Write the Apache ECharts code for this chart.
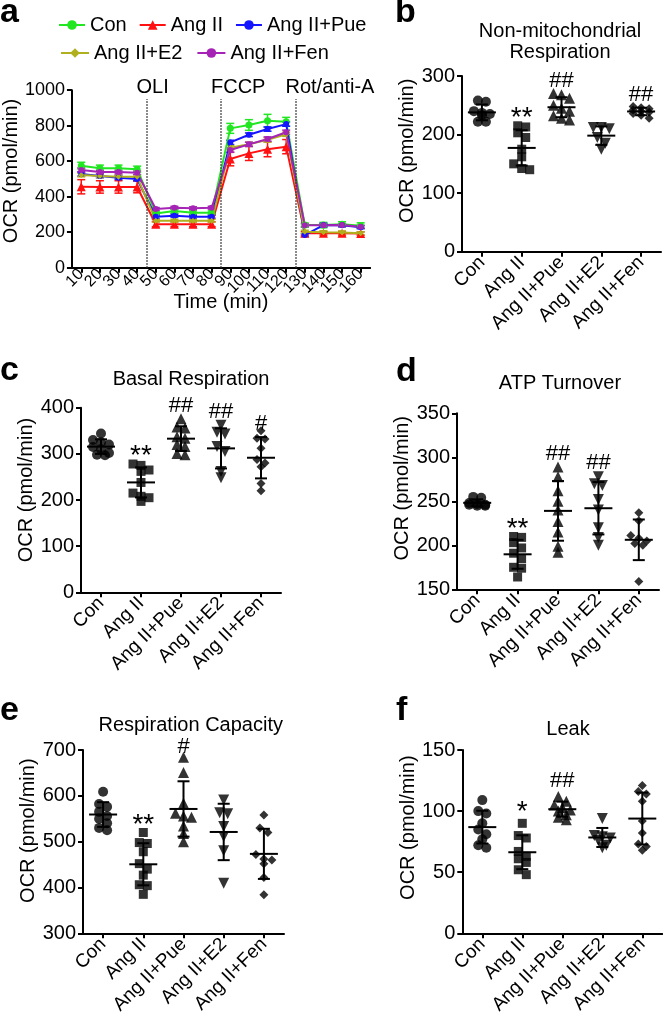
<!DOCTYPE html>
<html><head><meta charset="utf-8">
<script src="https://cdn.jsdelivr.net/npm/echarts@6/dist/echarts.min.js"></script>
<style>html,body{margin:0;padding:0;background:#fff}#c{width:663px;height:1017px}</style>
</head><body><div id="c"></div>
<script>
// ---------- Panel a : OCR time course ----------
const times = [10,20,30,40,50,60,70,80,90,100,110,120,130,140,150,160];
const ocrCon  = [575,560,560,555,306,319,310,310,785,804,828,822,240,240,245,237];
const ocrAng  = [456,455,455,455,245,245,245,245,612,644,667,682,194,194,194,192];
const ocrPue  = [528,517,507,500,287,293,287,287,706,749,781,809,184,240,239,228];
const ocrE2   = [522,517,513,513,265,265,265,265,676,695,720,752,203,200,199,194];
const ocrFen  = [550,539,539,535,331,338,335,338,663,695,725,763,239,239,240,231];
const sdCon   = [19,18,18,17,12,12,10,10,28,30,36,25,12,15,14,16];
const sdAng   = [40,35,35,33,15,14,14,14,38,40,42,40,10,10,10,10];
const sdPue   = [12,10,10,10,10,8,8,8,12,10,12,12,8,10,8,8];
const sdE2    = [10,10,10,10,8,8,8,8,12,12,12,12,8,8,8,8];
const sdFen   = [12,10,10,10,8,8,8,8,12,12,12,12,8,8,8,8];
const injTimes  = [45,85,125];
const injLabels = ['OLI','FCCP','Rot/anti-A'];
const injTop = 950;

// ---------- Panels b-f : scatter dot plots ----------
const groups = ['Con','Ang II','Ang II+Pue','Ang II+E2','Ang II+Fen'];
const nonMito = [
  [258,256,240,237,235,233,222,222],
  [215,213,203,195,175,162,150,142,140],
  [270,268,262,250,245,240,232,228,225],
  [212,212,210,195,185,175],
  [248,246,244,242,240,238,236,233,228]
];
const basal = [
  [344,330,325,320,315,310,302,298,297],
  [278,275,265,262,238,215,208,205,197],
  [376,358,356,337,334,320,316,301,298],
  [362,347,343,316,305,262,248],
  [350,334,332,312,288,280,272,236,220]
];
const atp = [
  [255,254,248,247,246,246,245,245],
  [210,209,203,197,191,185,175,174,164],
  [289,278,262,250,240,227,215,199,192],
  [278,270,268,252,240,220,209,200],
  [237,228,211,208,205,202,200,159]
];
const capacity = [
  [609,582,576,565,556,550,540,530,525],
  [520,498,496,478,452,440,427,406,404,385],
  [684,651,584,562,556,553,534,518,500],
  [591,563,561,533,511,480,409],
  [558,530,520,472,462,460,452,422,384]
];
const leak = [
  [109,100,98,90,85,81,77,72,70],
  [90,80,78,67,63,61,58,52,48],
  [112,108,105,103,101,100,97,95,93],
  [94,80,79,78,76,72,70],
  [121,116,114,108,92,82,73,71,68]
];
// significance marks: [group index, value, mark]
const sigNonMito  = [[1,239,'**'],[2,291,'##'],[4,268,'##']];
const sigBasal    = [[1,310,'**'],[2,404,'##'],[3,391,'##'],[4,365,'#']];
const sigAtp      = [[1,226,'**'],[2,304,'##'],[3,294,'##']];
const sigCapacity = [[1,552,'**'],[2,707,'#']];
const sigLeak     = [[1,105,'*'],[2,125,'##']];
const yTitle = 'OCR (pmol/min)';

// ---------- layout & style ----------
const FONT = 'Liberation Sans, Arial, Helvetica, sans-serif';
const layouts = [
  {left:59,    top:90.2,  width:311, height:177.5},
  {left:462,   top:76,    width:199, height:175.7},
  {left:81,    top:407.7, width:200, height:184.6},
  {left:457,   top:413.3, width:202, height:176},
  {left:83,    top:750,   width:201, height:183.3},
  {left:462.3, top:750,   width:200, height:184}
];
const panels = [
  {vals:nonMito,  sig:sigNonMito,  min:0,   max:300, interval:100, gap:44, shift:13},
  {vals:basal,    sig:sigBasal,    min:0,   max:400, interval:100, gap:43, shift:10},
  {vals:atp,      sig:sigAtp,      min:150, max:350, interval:50,  gap:41, shift:13},
  {vals:capacity, sig:sigCapacity, min:300, max:700, interval:100, gap:43, shift:11},
  {vals:leak,     sig:sigLeak,     min:0,   max:150, interval:50,  gap:44, shift:14}
];
const SYM = ['circle','rect','triangle','triangle','diamond'];
const SYMSIZE = [10,9,11,11,9];

const axisLine = {show:true, onZero:false, lineStyle:{color:'#000', width:2}};
const axisTick = {show:true, length:5, lineStyle:{color:'#000', width:2}};
const plain = v => String(v);

const measureCtx = document.createElement('canvas').getContext('2d');
function textWidth(t, size) { measureCtx.font = size + 'px ' + FONT; return measureCtx.measureText(t).width; }

function swarm(values, ppu, tol, step, maxRow) {
  const idx = values.map((v,i)=>i).sort((a,b)=>values[b]-values[a]);
  const offs = new Array(values.length).fill(0);
  let row = [];
  const flush = () => { const n=row.length; row.forEach((k,j)=>offs[k]=(j-(n-1)/2)*step); row=[]; };
  idx.forEach(k => {
    if (row.length && ((values[row[0]]-values[k])*ppu > tol || row.length >= maxRow)) flush();
    row.push(k);
  });
  flush();
  return offs;
}
function stats(arr) {
  const n = arr.length, m = arr.reduce((a,b)=>a+b,0)/n;
  const sd = Math.sqrt(arr.reduce((a,b)=>a+(b-m)*(b-m),0)/(n-1));
  return [m, sd];
}
function meanSdRender(params, api) {
  const g = api.value(0), m = api.value(1), s = api.value(2);
  const c = api.coord([g, m]), t = api.coord([g, m+s]), b = api.coord([g, m-s]);
  const st = {stroke:'#000', lineWidth:2};
  return {type:'group', children:[
    {type:'line', shape:{x1:c[0]-14, y1:c[1], x2:c[0]+14, y2:c[1]}, style:st},
    {type:'line', shape:{x1:c[0], y1:t[1], x2:c[0], y2:b[1]}, style:st},
    {type:'line', shape:{x1:c[0]-6, y1:t[1], x2:c[0]+6, y2:t[1]}, style:st},
    {type:'line', shape:{x1:c[0]-6, y1:b[1], x2:c[0]+6, y2:b[1]}, style:st}
  ]};
}
function sigRender(marks) {
  return (params, api) => {
    const mark = marks[params.dataIndex][2];
    const star = mark.indexOf('*') >= 0;
    const c = api.coord([api.value(0), api.value(1)]);
    return {type:'text', x:c[0], y:c[1] + (star ? 7 : 0),
      style:{text:mark, fill:'#000', fontSize:star ? 28 : 22, fontFamily:FONT,
             align:'center', verticalAlign:'middle'}};
  };
}
function errRender(color) {
  return (params, api) => {
    const x = api.value(0), y = api.value(1), e = api.value(2);
    const t = api.coord([x, y+e]), b = api.coord([x, y-e]);
    const st = {stroke:color, lineWidth:1.5};
    return {type:'group', children:[
      {type:'line', shape:{x1:t[0], y1:t[1], x2:b[0], y2:b[1]}, style:st},
      {type:'line', shape:{x1:t[0]-4, y1:t[1], x2:t[0]+4, y2:t[1]}, style:st},
      {type:'line', shape:{x1:b[0]-4, y1:b[1], x2:b[0]+4, y2:b[1]}, style:st}
    ]};
  };
}

const grid = layouts.map(l => ({left:l.left, top:l.top, width:l.width, height:l.height, containLabel:false}));
// panel a: value axis for data (no labels) + category axis for tick labels
const xAxis = [{
  gridIndex:0, type:'value', min:5, max:165,
  axisLine, axisTick:{show:false}, axisLabel:{show:false}, splitLine:{show:false},
  name:'Time (min)', nameLocation:'middle', nameGap:25,
  nameTextStyle:{fontSize:20, color:'#000', fontFamily:FONT}
}];
const yAxis = [{
  gridIndex:0, type:'value', min:0, max:1000, interval:200,
  axisLine, axisTick, splitLine:{show:false},
  axisLabel:{fontSize:18, margin:7, color:'#000', fontFamily:FONT, formatter:plain},
  name:yTitle, nameLocation:'middle', nameRotate:90, nameGap:37,
  nameTextStyle:{fontSize:20, color:'#000', fontFamily:FONT, padding:[0,0,0,16]}
}];
panels.forEach((p, i) => {
  const k = i+1;
  xAxis.push({
    gridIndex:k, type:'category', data:groups, boundaryGap:true,
    axisLine, axisTick:Object.assign({}, axisTick, {alignWithLabel:true, interval:0}),
    axisLabel:{interval:0, rotate:45, fontSize:19, margin:8, color:'#000', fontFamily:FONT}
  });
  yAxis.push({
    gridIndex:k, type:'value', min:p.min, max:p.max, interval:p.interval,
    axisLine, axisTick, splitLine:{show:false},
    axisLabel:{fontSize:20, margin:7, color:'#000', fontFamily:FONT, formatter:plain},
    name:yTitle, nameLocation:'middle', nameRotate:90, nameGap:p.gap,
    nameTextStyle:{fontSize:20, color:'#000', fontFamily:FONT, padding:[0,0,0,2*p.shift]}
  });
});
xAxis.push({
  gridIndex:0, type:'category', data:times.map(String), boundaryGap:true, position:'bottom',
  axisLine, axisTick:Object.assign({}, axisTick, {alignWithLabel:true, interval:0}),
  axisLabel:{interval:0, rotate:45, fontSize:16, margin:4, color:'#000', fontFamily:FONT}
});

const series = [];
const aGroups = [
  {name:'Con',        y:ocrCon, sd:sdCon, color:'#22e622', symbol:'circle',   size:7},
  {name:'Ang II',     y:ocrAng, sd:sdAng, color:'#ff1111', symbol:'triangle', size:9},
  {name:'Ang II+Pue', y:ocrPue, sd:sdPue, color:'#1515ff', symbol:'circle',   size:6},
  {name:'Ang II+E2',  y:ocrE2,  sd:sdE2,  color:'#b0b01e', symbol:'diamond',  size:6},
  {name:'Ang II+Fen', y:ocrFen, sd:sdFen, color:'#a524b5', symbol:'circle',   size:6}
];
aGroups.forEach(g => {
  series.push({
    type:'custom', name:g.name+' SD', xAxisIndex:0, yAxisIndex:0, silent:true, z:2,
    renderItem:errRender(g.color), data:times.map((t,i)=>[t, g.y[i], g.sd[i]])
  });
});
aGroups.forEach((g, gi) => {
  const s = {
    type:'line', name:g.name, xAxisIndex:0, yAxisIndex:0, z:3,
    data:times.map((t,i)=>[t, g.y[i]]),
    symbol:g.symbol, symbolSize:g.size, showSymbol:true,
    lineStyle:{color:g.color, width:2}, itemStyle:{color:g.color}
  };
  if (gi === 0) {
    s.markLine = {
      silent:true, symbol:'none', animation:false,
      lineStyle:{type:'dotted', color:'#333', width:1.5},
      label:{show:true, position:'end', formatter:'{b}', fontSize:20, color:'#000',
             fontFamily:FONT, distance:2},
      data:injTimes.map((t,i)=>[
        {coord:[t,0], name:injLabels[i],
         label:{padding:[0,0,0,Math.max(0, textWidth(injLabels[i],20)-20)]}},
        {coord:[t,injTop]}])
    };
  }
  series.push(s);
});

panels.forEach((p, i) => {
  const k = i+1, L = layouts[k];
  const ppu = L.height/(p.max-p.min);
  const pts = [];
  p.vals.forEach((arr, g) => {
    const offs = swarm(arr, ppu, 6, 8, 3);
    arr.forEach((v, j) => pts.push({
      value:[g, v], symbol:SYM[g], symbolSize:SYMSIZE[g],
      symbolRotate:g===3?180:0, symbolOffset:[offs[j],0]
    }));
  });
  series.push({type:'scatter', xAxisIndex:k, yAxisIndex:k, data:pts, silent:true,
               itemStyle:{color:'#000'}, z:3});
  series.push({type:'custom', xAxisIndex:k, yAxisIndex:k, silent:true, z:4,
               renderItem:meanSdRender,
               data:p.vals.map((arr,g)=>{const s=stats(arr); return [g, s[0], s[1]];})});
  series.push({type:'custom', xAxisIndex:k, yAxisIndex:k, silent:true, clip:false, z:5,
               renderItem:sigRender(p.sig),
               data:p.sig.map(s=>[s[0], s[1]])});
});

const titleTexts = [
  ['Non-mitochondrial', 560, 31], ['Respiration', 560, 52.5],
  ['Basal Respiration', 191, 379], ['ATP Turnover', 560, 383],
  ['Respiration Capacity', 190.7, 725.5], ['Leak', 568, 729]
];
const letters = [['a',0,13],['b',395,13],['c',0,371],['d',396,372],['e',0,711],['f',396,711]];
const graphic = [];
titleTexts.forEach(t => graphic.push({type:'text', x:t[1], y:t[2], silent:true,
  style:{text:t[0], fontSize:20, fontFamily:FONT, fill:'#000', align:'center', verticalAlign:'middle'}}));
letters.forEach(t => graphic.push({type:'text', x:t[1], y:t[2], silent:true,
  style:{text:t[0], fontSize:34, fontWeight:'bold', fontFamily:FONT, fill:'#000', align:'left', verticalAlign:'middle'}}));

const legendBase = {textStyle:{fontSize:20, color:'#000', fontFamily:FONT}, selectedMode:false, orient:'horizontal'};
const option = {
  animation:false,
  backgroundColor:'#fff',
  grid, xAxis, yAxis, series, graphic,
  legend:[
    Object.assign({}, legendBase, {data:['Con','Ang II','Ang II+Pue'], left:53, top:10, itemWidth:26, itemHeight:12, itemGap:12}),
    Object.assign({}, legendBase, {data:['Ang II+E2','Ang II+Fen'], left:55, top:38, itemWidth:28, itemHeight:12, itemGap:14})
  ]
};
const chart = echarts.init(document.getElementById('c'), null, {renderer:'canvas'});
chart.setOption(option);
</script>
</body></html>
